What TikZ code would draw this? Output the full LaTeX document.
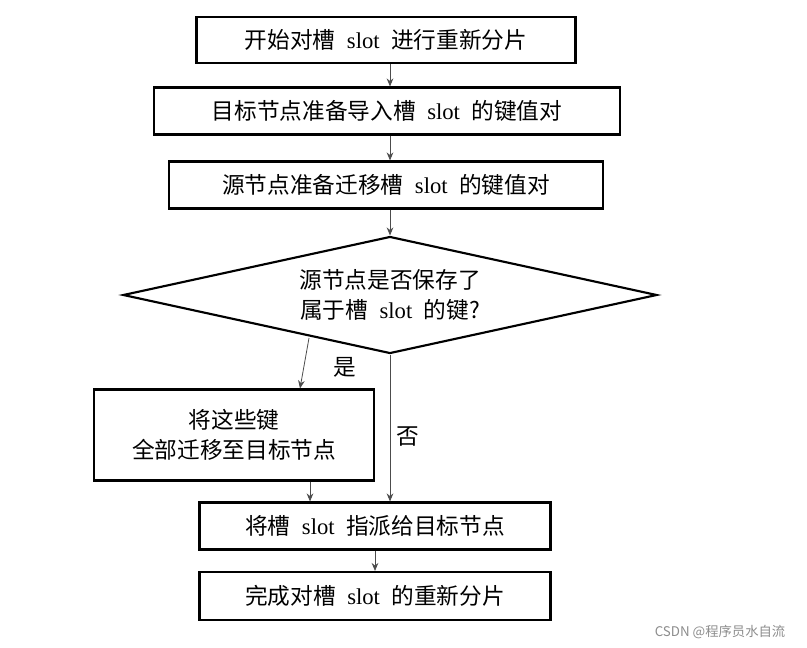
\documentclass[tikz,border=0pt]{standalone}
\usepackage{fontspec}
\setmainfont{Liberation Serif}
\newfontfamily\cjk{Noto Sans CJK SC}
\usetikzlibrary{shapes.geometric,arrows.meta}

\tikzset{
    stepbox/.style={draw,line width=1.6pt,inner sep=0pt,font=\cjk\fontsize{17}{23}\selectfont},
    flow/.style={draw=black!70,line width=0.6pt,-{Stealth[length=6pt,width=5pt]}},
    note/.style={font=\cjk\fontsize{17}{20}\selectfont}
}
\newcommand{\slotw}{\hspace{0.5em}{\rmfamily slot}\hspace{0.5em}}

\begin{document}
\begin{tikzpicture}[x=0.75pt,y=-0.75pt]
    \useasboundingbox (0,0) rectangle (807,647);
    % steps
    \node[stepbox,minimum width=379*0.75pt,minimum height=46*0.75pt] (start) at (386,40) {开始对槽\slotw 进行重新分片};
    \node[stepbox,minimum width=466*0.75pt,minimum height=47*0.75pt] (import) at (387,111) {目标节点准备导入槽\slotw 的键值对};
    \node[stepbox,minimum width=434*0.75pt,minimum height=47*0.75pt] (migrate) at (386,185) {源节点准备迁移槽\slotw 的键值对};
    \node[diamond,draw,line width=1.6pt,aspect=4.56,minimum width=534*0.75pt,minimum height=117*0.75pt,inner sep=0pt,
          font=\cjk\fontsize{17}{23}\selectfont,align=center] (check) at (390,295) {源节点是否保存了\\属于槽\slotw 的键?};
    \node[stepbox,minimum width=280*0.75pt,minimum height=91*0.75pt,align=center] (move) at (234,435) {将这些键\\全部迁移至目标节点};
    \node[stepbox,minimum width=351*0.75pt,minimum height=47*0.75pt] (assign) at (375,526) {将槽\slotw 指派给目标节点};
    \node[stepbox,minimum width=351*0.75pt,minimum height=48*0.75pt] (done) at (375,596) {完成对槽\slotw 的重新分片};

    % connectors
    \draw[flow] (start.south -| 390,0) -- (import.north -| 390,0);
    \draw[flow] (import.south -| 390,0) -- (migrate.north -| 390,0);
    \draw[flow] (migrate.south -| 390,0) -- (check.north);
    \coordinate (yesfrom) at (309,338);
    \draw[flow] (yesfrom) -- (move.north -| 300,0);
    \draw[flow] (check.south) -- (assign.north -| 390,0);
    \draw[flow] (move.south -| 310,0) -- (assign.north -| 310,0);
    \draw[flow] (assign) -- (done);

    % labels
    \node[note] (yes) at (345,367) {是};
    \node[note] (no) at (408,437) {否};
    \node[font=\cjk\fontsize{10}{12}\selectfont,text=black!45] (mark) at (720,632) {CSDN @程序员水自流};
\end{tikzpicture}
\end{document}
